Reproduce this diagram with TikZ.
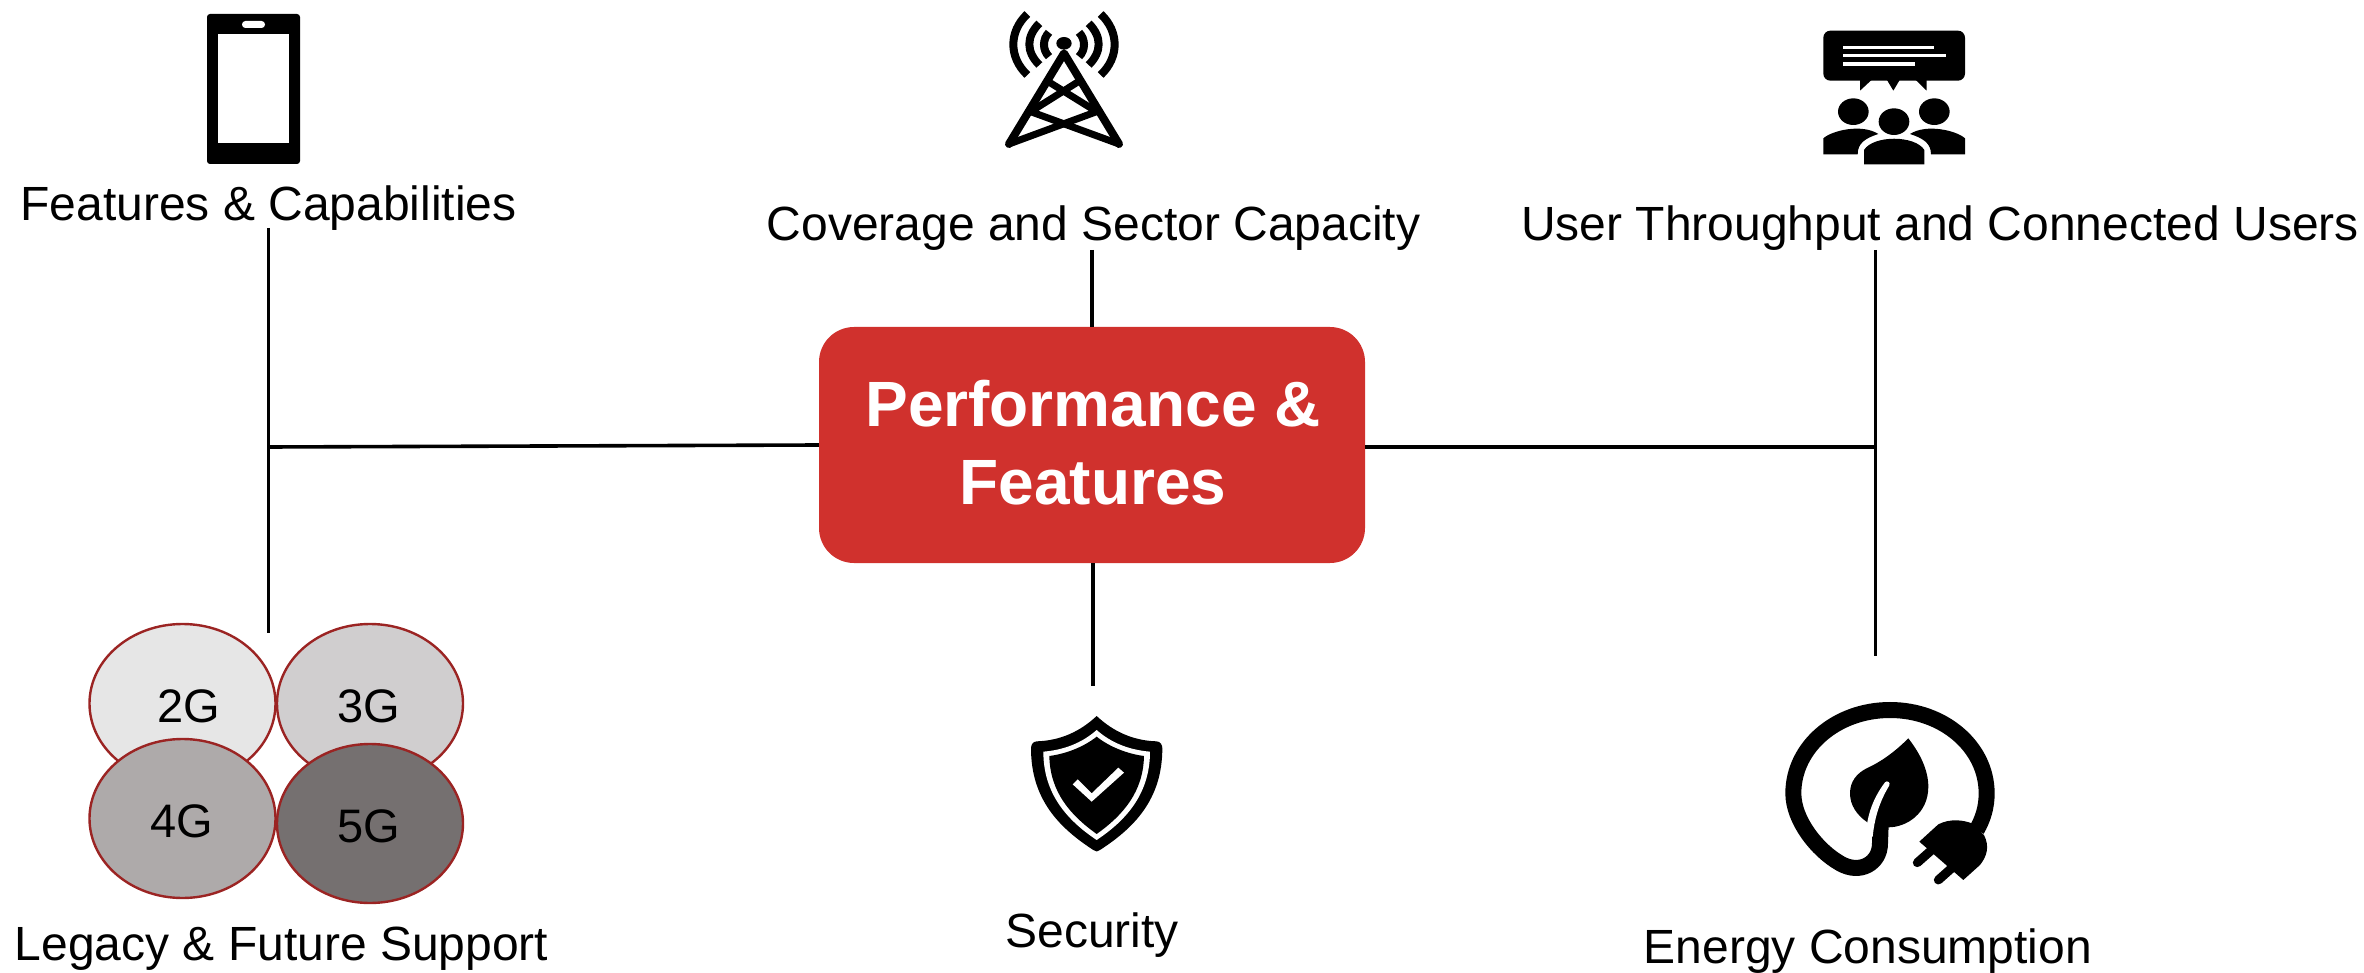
\documentclass[tikz,border=0pt]{standalone}
\usepackage{fontspec}
\setmainfont{Liberation Sans}
\definecolor{hubred}{HTML}{D0312D}
\definecolor{ringred}{HTML}{9B2423}
\tikzset{
  lbl/.style={anchor=base,inner sep=0pt,font=\fontsize{48}{56}\selectfont,text=black},
  conn/.style={draw=black,line width=3.6pt},
  gen/.style={ellipse,draw=ringred,line width=2.4pt,minimum width=186pt,minimum height=159pt,inner sep=0pt},
  gtxt/.style={inner sep=0pt,font=\fontsize{47}{50}\selectfont,text=black},
  icon/.style={x=0.3333pt,y=-0.3333pt},
}
\usetikzlibrary{shapes.geometric}
\begin{document}
\begin{tikzpicture}[x=1pt,y=-1pt]
\useasboundingbox (0,0) rectangle (2364,973);
% hub
\node[fill=hubred,rounded corners=35pt,minimum width=546pt,minimum height=236pt,inner sep=0pt] (hub) at (1092,445) {};
\node[inner sep=0pt,text=white,align=center,font=\fontsize{64}{78}\selectfont\bfseries] (hubtext) at (1093,443) {Performance \&\\Features};
% labels
\node[lbl] (features) at (268.5,221) {Features \& Capabilities};
\node[lbl] (coverage) at (1093.5,240.5) {Coverage and Sector Capacity};
\node[lbl] (users) at (1940,241) {User Throughput and Connected Users};
\node[lbl] (legacy) at (281.5,960.5) {Legacy \& Future Support};
\node[lbl] (security) at (1092,947) {Security};
\node[lbl] (energy) at (1868,963) {Energy Consumption};
% connector ends
\coordinate (ltop) at (268.5,228);
\coordinate (lbot) at (268.5,633);
\coordinate (ljoin) at (268.5,447);
\coordinate (ctop) at (1092,250);
\coordinate (cbot) at (1093,686);
\coordinate (rtop) at (1875.5,250);
\coordinate (rbot) at (1875.5,656);
\coordinate (rjoin) at (1875.5,447);
\draw[conn] (ltop) -- (lbot);
\draw[conn] (ljoin) -- (hub.west);
\draw[conn] (ctop) -- (ctop |- hub.north);
\draw[conn] (cbot |- hub.south) -- (cbot);
\draw[conn] (rtop) -- (rbot);
\draw[conn] (rjoin -| hub.east) -- (rjoin);
% generation bubbles
\node[gen,fill={rgb,255:red,230;green,230;blue,230}] (g2) at (182.5,703.5) {};
\node[gen,fill={rgb,255:red,208;green,206;blue,207}] (g3) at (370,703.5) {};
\node[gen,fill={rgb,255:red,174;green,170;blue,170}] (g4) at (182.5,818.5) {};
\node[gen,fill={rgb,255:red,117;green,112;blue,112}] (g5) at (370,823.5) {};
\node[gtxt] (t2) at (188.5,706) {2G};
\node[gtxt] (t3) at (369,706) {3G};
\node[gtxt] (t4) at (182,821) {4G};
\node[gtxt] (t5) at (369,826) {5G};
% phone
\fill[black,rounded corners=3pt] (207,14) rectangle (300,164);
\fill[white] (218,34) rectangle (289,143);
\fill[white,rounded corners=3.4pt] (242,21) rectangle (265,28);
% tower
\begin{scope}[shift={(970,0)},icon]
\fill (282,130) ellipse [x radius=23,y radius=19];
\draw[line width=8pt,line cap=round,line join=round] (117,432) -- (282,160) -- (447,432);
\draw[line width=7pt,line cap=round,line join=round] (117,432) -- (380,335) -- (235,245);
\draw[line width=7pt,line cap=round,line join=round] (447,432) -- (182,335) -- (325,245);
\foreach \s in {1,-1}{
  \begin{scope}[xshift={282*0.3333pt},xscale=\s]
  \draw[line width=8pt] (-45,97) .. controls (-65,118) and (-65,150) .. (-45,170);
  \draw[line width=8pt] (-74,70) .. controls (-114,110) and (-114,155) .. (-74,195);
  \draw[line width=8pt] (-110,42) .. controls (-166,95) and (-166,172) .. (-110,225);
  \end{scope}
}
\end{scope}
% users
\begin{scope}[shift={(1790,10)},icon]
\fill[rounded corners=7pt] (100,62) rectangle (525,212);
\fill (210,205) -- (210,242) -- (250,205) -- cycle;
\fill (288,205) -- (310,242) -- (332,205) -- cycle;
\fill (372,205) -- (410,242) -- (410,205) -- cycle;
\fill[white] (158,108) rectangle (432,118);
\fill[white] (158,132) rectangle (468,142);
\fill[white] (158,157) rectangle (374,167);
\fill (190,305) ellipse [x radius=46,y radius=40];
\fill (433,305) ellipse [x radius=46,y radius=40];
\fill (312,335) ellipse [x radius=46,y radius=40];
\fill (100,433) -- (100,385) .. controls (125,362) and (215,340) .. (265,372) .. controls (225,385) and (203,400) .. (203,433) -- cycle;
\fill (525,433) -- (525,385) .. controls (500,362) and (410,340) .. (360,372) .. controls (400,385) and (423,400) .. (423,433) -- cycle;
\fill (222,463) -- (222,420) .. controls (250,375) and (375,375) .. (403,420) -- (403,463) -- cycle;
\end{scope}
% shield
\begin{scope}[shift={(1000,700)},icon]
\fill (290,48) .. controls (340,95) and (400,122) .. (470,124) .. controls (482,125) and (487,135) .. (487,145) .. controls (487,300) and (400,385) .. (300,450) .. controls (293,456) and (287,456) .. (280,450) .. controls (180,385) and (93,300) .. (93,145) .. controls (93,135) and (98,125) .. (110,124) .. controls (180,122) and (240,95) .. (290,48) -- cycle;
\fill[white] (290,90) .. controls (335,130) and (390,150) .. (450,155) .. controls (450,280) and (380,360) .. (290,420) .. controls (200,360) and (130,280) .. (130,155) .. controls (190,150) and (245,130) .. (290,90) -- cycle;
\fill (290,110) .. controls (330,142) and (385,162) .. (432,168) .. controls (430,275) and (370,345) .. (290,402) .. controls (210,345) and (150,275) .. (148,168) .. controls (195,162) and (250,142) .. (290,110) -- cycle;
\fill[white] (233,238) -- (275,280) -- (355,203) -- (372,218) -- (275,305) -- (218,253) -- cycle;
\end{scope}
% energy
\begin{scope}[shift={(1760,690)},icon]
\draw[line width=16pt] (650,420) .. controls (670,385) and (680,350) .. (680,310) .. controls (680,170) and (550,60) .. (390,60) .. controls (230,60) and (100,170) .. (100,310) .. controls (100,390) and (170,480) .. (240,520) .. controls (300,555) and (360,520) .. (360,460) -- (362,405);
\fill (445,145) .. controls (480,190) and (505,240) .. (505,290) .. controls (505,370) and (440,412) .. (385,412) -- (338,430) -- (322,397) .. controls (290,375) and (270,345) .. (270,310) .. controls (270,275) and (290,250) .. (320,235) .. controls (370,212) and (410,180) .. (445,145) -- cycle;
\fill[white] (375,277) .. controls (382,270) and (392,278) .. (388,286) .. controls (365,325) and (345,370) .. (338,440) -- (310,440) -- (322,397) .. controls (330,350) and (350,310) .. (375,277) -- cycle;
\fill (478,455) -- (535,403) .. controls (570,385) and (610,390) .. (635,400) -- (672,435) .. controls (690,470) and (680,500) .. (660,525) -- (610,570) -- cycle;
\draw[line width=9pt,line cap=round] (472,518) -- (515,480);
\draw[line width=9pt,line cap=round] (535,570) -- (580,530);
\end{scope}
\end{tikzpicture}
\end{document}
